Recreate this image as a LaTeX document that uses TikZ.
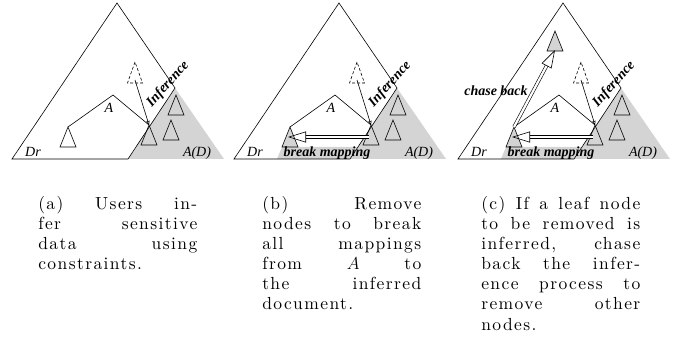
\documentclass[tikz,border=0pt]{standalone}
\usepackage{fontspec}
\usetikzlibrary{arrows.meta}
\newfontfamily\labfont{Liberation Serif}
\newfontfamily\capfont[LetterSpace=8]{lmroman10-regular.otf}
\definecolor{lgray}{gray}{0.83}
\def\Tri{-- ++(-8,20) -- ++(16,0) -- cycle}
\def\Dtri{-- ++(-7.5,21) -- ++(15,0) -- cycle}
\tikzset{
	lbl/.style={inner sep=0pt, font=\labfont\itshape\fontsize{14}{14}\selectfont},
	blbl/.style={inner sep=0pt, font=\labfont\bfseries\itshape\fontsize{14}{14}\selectfont},
	capbox/.style={anchor=north west, inner sep=0pt, text width=159pt, align=justify,
		font=\capfont\fontsize{17.5}{20.1}\selectfont},
	wide/.style={double, double distance=2.2pt, -{Triangle[open, length=18pt, width=11pt]}},
	infer/.style={-{Triangle[open, length=4pt, width=3.5pt]}},
}

\begin{document}
\begin{tikzpicture}[x=1pt, y=-1pt, line width=0.6pt]
	\useasboundingbox (0,0) rectangle (679,358);

	\foreach \p/\s/\lf in {a/0/white, b/222/lgray, c/446/lgray} {
	\begin{scope}[xshift=\s pt]
		\coordinate (\p-top) at (117,3);
		\coordinate (\p-bl) at (12,159);
		\coordinate (\p-gl) at (128,159);
		\coordinate (\p-ga) at (175,88);
		\coordinate (\p-gr) at (224,159);
		\coordinate (\p-la) at (68,127);
		\coordinate (\p-ra) at (149,125);
		\coordinate (\p-aa) at (113,95);
		\coordinate (\p-da) at (135,62);
		\coordinate (\p-dm) at (135,80);

		\fill[\lf] (60,147) -- (55,159) -- (\p-gl) -- (136,147) -- cycle;
		\fill[lgray] (\p-ga) -- (\p-gl) -- (\p-gr) -- cycle;
		\draw (\p-top) -- (\p-bl) -- (\p-gl) -- (\p-ga) -- cycle;
		\draw (\p-la) -- (\p-aa) -- (\p-ra);
		\draw[fill=\lf] (\p-la) \Tri;
		\draw (\p-ra) \Tri;
		\draw (176,95) \Tri;
		\draw (171,120) \Tri;
		\draw[dash pattern=on 3pt off 2pt] (\p-da) \Dtri;
		\draw[infer] (\p-dm) -- (\p-ra);

		\node[lbl] (\p-A) at (109,108) {A};
		\node[lbl] (\p-Dr) at (33,152) {Dr};
		\node[lbl] (\p-AD) at (197,153) {A(D)};
		\node[blbl, rotate=48] (\p-inf) at (168,84) {Inference};
	\end{scope}
	}

	\foreach \p/\s in {b/222, c/446} {
	\begin{scope}[xshift=\s pt]
		\coordinate (\p-rm) at (147,137);
		\coordinate (\p-lm) at (66,137);
		\draw[wide] (\p-rm) -- (\p-lm);
		\node[blbl] (\p-brk) at (105,153) {break mapping};
	\end{scope}
	}

	\begin{scope}[xshift=446pt]
		\coordinate (c-ta) at (109,31);
		\coordinate (c-tm) at (109,50);
		\draw[fill=lgray] (c-ta) \Tri;
		\draw[wide] (c-la) -- (c-tm);
		\node[blbl] (c-chase) at (50,91) {chase back};
	\end{scope}

	\node[capbox] (cap-a) at (38,196) {(a) Users in-\linebreak fer sensitive\linebreak data using\linebreak constraints.};
	\node[capbox] (cap-b) at (262,196) {(b) Remove\linebreak nodes to break\linebreak all mappings\linebreak from $A$ to\linebreak the inferred\linebreak document.};
	\node[capbox] (cap-c) at (481,196) {(c) If a leaf node\linebreak to be removed is\linebreak inferred, chase\linebreak back the infer-\linebreak ence process to\linebreak remove other\linebreak nodes.};
\end{tikzpicture}
\end{document}
